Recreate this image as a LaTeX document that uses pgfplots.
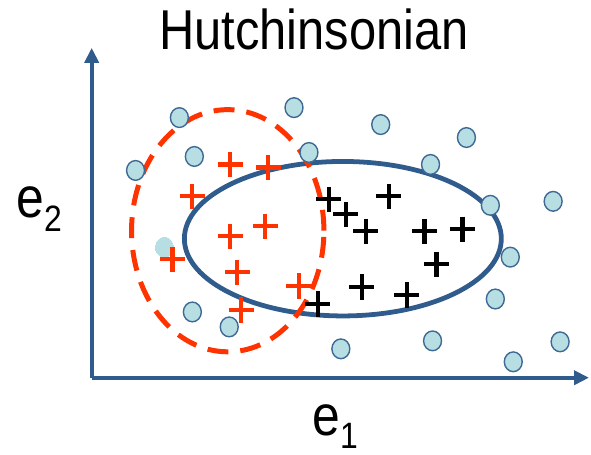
\documentclass[border=0pt]{standalone}
\usepackage{pgfplots}
\pgfplotsset{compat=1.18}
\usetikzlibrary{arrows.meta}
\usepackage{fontspec}
\setmainfont{Liberation Sans}
\definecolor{axblue}{RGB}{47,92,140}
\definecolor{ptfill}{RGB}{183,222,226}
\definecolor{ptedge}{RGB}{62,105,148}
\definecolor{redp}{RGB}{255,51,0}
\pgfplotstableread{
x y
180 338
295 348
195 299
136 285
310 303
193 143
230 128
342 106
382 331
468 318
432 291
492 250
555 254
512 198
497 156
434 114
562 113
515 93
}\circles
\pgfplotstableread{
x y
231 291
269 288
193 259
266 229
231 219
173 196
238 183
300 169
242 145
}\redplus
\pgfplotstableread{
x y
330 256
347 241
390 259
367 224
426 224
464 226
438 191
363 168
408 160
319 151
}\blackplus
\begin{document}
\begin{tikzpicture}
\begin{axis}[
  x=0.5pt, y=0.5pt,
  xmin=92, xmax=591, ymin=77, ymax=408,
  axis lines=left,
  axis line style={axblue, line width=2pt},
  x axis line style={-{Triangle[length=7.5pt,width=7pt]}},
  y axis line style={-{Triangle[length=7.5pt,width=7pt]}},
  xtick=\empty, ytick=\empty,
  clip=false,
]
\path (axis cs:0,0) rectangle (axis cs:591,456);
\addplot[only marks, mark=*, mark size=4.5pt, mark options={yscale=1.1, fill=ptfill, draw=ptedge, line width=0.7pt}] table {\circles};
\addplot[only marks, color=ptfill, mark=*, mark size=4.5pt, mark options={yscale=1.1, fill=ptfill, draw=ptfill, line width=0pt}] coordinates {(165,208)};
\draw[axblue, line width=2.4pt] (axis cs:344,216.5) ellipse [x radius=79.5pt, y radius=38.75pt];
\draw[redp, line width=2.5pt, dash pattern=on 10.5pt off 6pt] (axis cs:228.5,224.5) ellipse [x radius=48.25pt, y radius=60.75pt];
\addplot[only marks, mark=+, mark size=6.3pt, mark options={line width=2.1pt, draw=redp}] table {\redplus};
\addplot[only marks, mark=+, mark size=6.3pt, mark options={line width=2.1pt, draw=black}] table {\blackplus};
\node[anchor=base] at (axis cs:315,406) {\scalebox{1}[1.15]{\fontsize{24.5pt}{28pt}\selectfont Hutchinsonian}};
\node[anchor=base west, inner sep=0pt] at (axis cs:16,238) {\scalebox{1}[1.15]{\fontsize{25pt}{28pt}\selectfont e\raisebox{-6pt}{\fontsize{16pt}{18pt}\selectfont 2}}};
\node[anchor=base west, inner sep=0pt] at (axis cs:313,19) {\scalebox{1}[1.15]{\fontsize{25pt}{28pt}\selectfont e\raisebox{-5.5pt}{\fontsize{16pt}{18pt}\selectfont 1}}};
\end{axis}
\end{tikzpicture}
\end{document}
